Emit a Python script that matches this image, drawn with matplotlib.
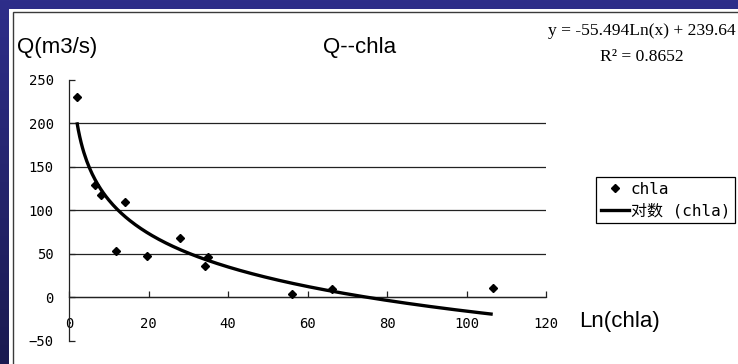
import numpy as np
import matplotlib
matplotlib.use("Agg")
import matplotlib.pyplot as plt
from matplotlib.patches import Rectangle
from matplotlib.lines import Line2D

# ---- data ----
chla_x = [2.0, 6.5, 8.0, 11.9, 14.2, 19.6, 27.8, 34.1, 35.0, 56.1, 66.1, 106.6]
q_y = [230, 129, 118, 53, 110, 47, 68, 36, 46, 4, 9, 11]
fit_a = -55.494   # slope of logarithmic trendline (from equation label)
fit_b = 239.64    # intercept
r2_text = "R² = 0.8652"
eq_text = "y = -55.494Ln(x) + 239.64"
x_ticks = [0, 20, 40, 60, 80, 100, 120]
y_ticks = [-50, 0, 50, 100, 150, 200, 250]
grid_vals = [0, 50, 100, 150, 200]
title = "Q--chla"
ylabel = "Q(m3/s)"
xlabel = "Ln(chla)"
legend_labels = ["chla", "对数 (chla)"]

W, H = 738, 364
fig = plt.figure(figsize=(W / 100, H / 100), dpi=100)

def fx(px):
    return px / W

def fy(py):
    return 1 - py / H

# background gradient
bg = fig.add_axes([0, 0, 1, 1], zorder=-10)
top = np.array([46, 46, 138]) / 255
bot = np.array([26, 26, 80]) / 255
t = np.linspace(0, 1, 256)[:, None]
grad = (top[None, :] * (1 - t) + bot[None, :] * t)[:, None, :]
bg.imshow(grad, extent=[0, 1, 0, 1], aspect="auto")
bg.axis("off")

fig.patches.append(Rectangle((fx(9), -0.05), 1.0, fy(9) + 0.05, transform=fig.transFigure,
                             facecolor="white", edgecolor="none", zorder=-5))
fig.patches.append(Rectangle((fx(13), -0.05), 1.0, fy(12) + 0.05, transform=fig.transFigure,
                             facecolor="none", edgecolor="#3a3a3a", lw=1.0, zorder=-4))

# main axes
left = fx(69)
right = fx(546)
bottom = fy(340.8)
topy = fy(79.8)
ax = fig.add_axes([left, bottom, right - left, topy - bottom])
ax.patch.set_visible(False)
ax.set_xlim(0, 120)
ax.set_ylim(-50, 250)

for g in grid_vals:
    ax.axhline(g, xmin=0, xmax=1, color="#222222", lw=0.9, zorder=1)

ax.spines["top"].set_visible(False)
ax.spines["right"].set_visible(False)
ax.spines["bottom"].set_position(("data", 0))
ax.spines["bottom"].set_color("#222222")
ax.spines["left"].set_color("#222222")
ax.spines["bottom"].set_linewidth(0.9)
ax.spines["left"].set_linewidth(0.9)

ax.set_xticks(x_ticks)
ax.set_yticks(y_ticks)
ax.set_xticklabels([str(v) for v in x_ticks], family="DejaVu Sans Mono", fontsize=10)
ax.set_yticklabels([("−50" if v < 0 else str(v)) for v in y_ticks], family="DejaVu Sans Mono", fontsize=10)
ax.tick_params(axis="x", direction="in", length=4, width=0.9, pad=14, color="#222222")
ax.tick_params(axis="y", direction="in", length=4, width=0.9, pad=11, color="#222222")

sc, = ax.plot(chla_x, q_y, linestyle="none", marker="D", markersize=4.5, color="black", zorder=3)
xx = np.linspace(min(chla_x), max(chla_x), 300)
yy = fit_a * np.log(xx) + fit_b
ln, = ax.plot(xx, yy, color="black", lw=2.4, zorder=4, solid_capstyle="butt")

# texts
fig.text(fx(17), fy(48), ylabel, ha="left", va="center", family="Liberation Sans", fontsize=16)
fig.text(fx(360), fy(48), title, ha="center", va="center", family="Liberation Sans", fontsize=16)
fig.text(fx(579), fy(322), xlabel, ha="left", va="center", family="Liberation Sans", fontsize=16)
fig.text(fx(642), fy(31), eq_text, ha="center", va="center", family="Liberation Serif", fontsize=12.6)
fig.text(fx(642), fy(57), r2_text, ha="center", va="center", family="Liberation Serif", fontsize=12.6)

# legend
h1 = Line2D([], [], linestyle="none", marker="D", markersize=4.5, color="black")
h2 = Line2D([], [], color="black", lw=2.4)
leg = ax.legend([h1, h2], legend_labels, loc="upper left",
                bbox_to_anchor=(fx(596), fy(177)), bbox_transform=fig.transFigure,
                frameon=True, fancybox=False, edgecolor="black", framealpha=1,
                borderaxespad=0, borderpad=0.3, labelspacing=0.4, handlelength=1.75,
                handletextpad=0.12, numpoints=1,
                prop={"family": ["DejaVu Sans Mono", "Noto Sans CJK SC"], "size": 11.5})
leg.get_frame().set_linewidth(0.9)

fig.savefig("out.png", dpi=100)
